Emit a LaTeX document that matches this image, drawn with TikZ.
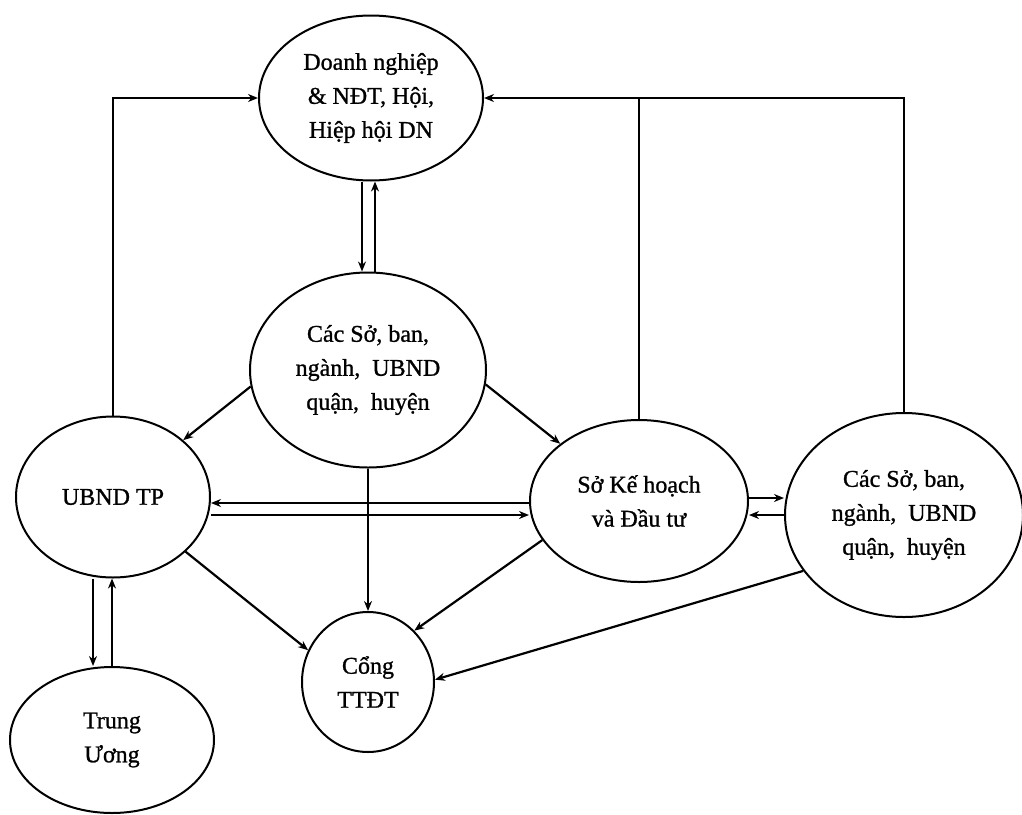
\documentclass[tikz,border=0pt]{standalone}
\usepackage{fontspec}
\setmainfont{Liberation Serif}
\newfontfamily\diagfont{Liberation Serif}[FakeBold=1]
\usetikzlibrary{shapes.geometric,arrows.meta,calc}
\begin{document}
\begin{tikzpicture}[x=1pt,y=-1pt,
  ell/.style={draw,ellipse,line width=2pt,inner sep=0pt,align=center,
    font=\diagfont\fontsize{24}{34}\selectfont},
  ln/.style={line width=2.2pt},
  arr/.style={line width=2.2pt,-{Stealth[length=10pt,width=8pt]}}]
\useasboundingbox (0,0) rectangle (1022,814);
\node[ell,minimum width=224pt,minimum height=165pt] (top) at (371,98) {Doanh nghiệp\\\& NĐT, Hội,\\Hiệp hội DN};
\node[ell,minimum width=236pt,minimum height=195pt] (mid) at (368,370) {Các Sở, ban,\\ngành,~ UBND\\quận,~ huyện};
\node[ell,minimum width=194pt,minimum height=161pt] (ubnd) at (113,497) {UBND TP};
\node[ell,minimum width=218pt,minimum height=162pt] (skh) at (639,501) {Sở Kế hoạch\\và Đầu tư};
\node[ell,minimum width=238pt,minimum height=204pt] (right) at (904,515) {Các Sở, ban,\\ngành,~ UBND\\quận,~ huyện};
\node[ell,minimum width=132pt,minimum height=140pt] (cong) at (368,682) {Cổng\\TTĐT};
\node[ell,minimum width=204pt,minimum height=146pt] (tw) at (112,740) {Trung\\Ương};
% top <-> mid
\draw[arr] ($(top.south)+(-9,0)$) -- ($(mid.north)+(-6,0)$);
\draw[arr] ($(mid.north)+(7,0)$) -- ($(top.south)+(4,0)$);
% ubnd -> top
\draw[arr] (ubnd.north) |- (top.west);
% right -> top, skh -> top
\draw[arr] (right.north) |- (top.east);
\draw[ln] (skh.north) -- (skh.north |- top.east);
% mid -> ubnd, mid -> skh, mid -> cong
\draw[arr] (mid.188) -- (ubnd.39);
\draw[arr] (mid.-7) -- (skh.144);
\draw[arr] (mid.south) -- (cong.north);
% ubnd <-> skh
\draw[arr] ($(skh.west)+(0,2)$) -- ($(ubnd.east)+(0,6)$);
\draw[arr] ($(ubnd.east)+(0,18)$) -- ($(skh.west)+(0,14)$);
% skh <-> right
\draw[arr] ($(skh.east)+(0,-3)$) -- ($(right.west)+(0,-17)$);
\draw[arr] ($(right.west)+(0,0)$) -- ($(skh.east)+(0,14)$);
% ubnd <-> tw
\draw[arr] ($(ubnd.south)+(-20,0)$) -- ($(tw.north)+(-19,0)$);
\draw[arr] ($(tw.north)+(0,0)$) -- ($(ubnd.south)+(-1,0)$);
% to cong
\draw[arr] (ubnd.-37) -- (cong.152);
\draw[arr] (skh.202) -- (cong.48);
\draw[arr] (right.209) -- (cong.2);
\end{tikzpicture}
\end{document}
